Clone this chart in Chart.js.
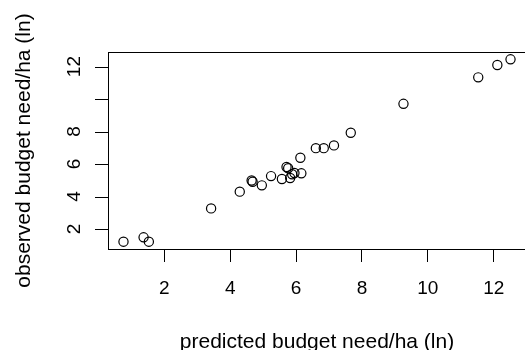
<!DOCTYPE html>
<html>
<head>
<meta charset="utf-8">
<script src="https://cdn.jsdelivr.net/npm/chart.js@4"></script>
<style>
  html, body { margin: 0; padding: 0; background: #fff; overflow: hidden; }
  #wrap { width: 540px; height: 350px; position: relative; }
</style>
</head>
<body>
<div id="wrap"><canvas id="c" width="540" height="350"></canvas></div>
<script>
// Data
const predicted = [0.76, 1.37, 1.53, 3.42, 4.29, 4.65, 4.68, 4.96, 5.24, 5.57, 5.71, 5.76, 5.82, 5.88, 5.95, 6.16, 6.13, 6.60, 6.84, 7.15, 7.66, 9.26, 11.53, 12.11, 12.51];
const observed  = [1.22, 1.49, 1.22, 3.27, 4.30, 4.99, 4.91, 4.69, 5.26, 5.08, 5.82, 5.74, 5.14, 5.37, 5.45, 5.43, 6.39, 6.98, 6.98, 7.15, 7.93, 9.71, 11.34, 12.10, 12.45];
const xTicks = [2, 4, 6, 8, 10, 12];
const yTicks = [2, 4, 6, 8, 10, 12];
const yTickLabels = ['2', '4', '6', '8', '', '12'];
const xTitle = 'predicted budget need/ha (ln)';
const yTitle = 'observed budget need/ha (ln)';

const points = predicted.map((x, i) => ({ x: x, y: observed[i] }));
const FONT = '"Liberation Sans", Arial, Helvetica, sans-serif';

const rPlot = {
  id: 'rPlot',
  afterDraw(chart) {
    const ctx = chart.ctx;
    const a = chart.chartArea;
    const ys = chart.scales.y;
    ctx.save();
    ctx.strokeStyle = '#000';
    ctx.lineWidth = 1;
    ctx.strokeRect(Math.round(a.left) + 0.5, Math.round(a.top) + 0.5,
                   Math.round(a.right - a.left), Math.round(a.bottom - a.top));
    // y tick marks and labels
    ctx.fillStyle = '#000';
    ctx.font = '19px ' + FONT;
    yTicks.forEach((v, i) => {
      const py = Math.round(ys.getPixelForValue(v)) + 0.5;
      ctx.beginPath();
      ctx.moveTo(a.left - 13, py);
      ctx.lineTo(a.left, py);
      ctx.stroke();
      if (yTickLabels[i]) {
        ctx.save();
        ctx.translate(80, ys.getPixelForValue(v));
        ctx.rotate(-Math.PI / 2);
        ctx.textAlign = 'center';
        ctx.textBaseline = 'alphabetic';
        ctx.fillText(yTickLabels[i], 0, 0);
        ctx.restore();
      }
    });
    // axis titles
    ctx.font = '21px ' + FONT;
    ctx.textAlign = 'center';
    ctx.textBaseline = 'alphabetic';
    ctx.fillText(xTitle, (a.left + a.right) / 2, 348);
    ctx.save();
    ctx.translate(30, (a.top + a.bottom) / 2);
    ctx.rotate(-Math.PI / 2);
    ctx.fillText(yTitle, 0, 0);
    ctx.restore();
    ctx.restore();
  }
};

new Chart(document.getElementById('c'), {
  type: 'scatter',
  data: {
    datasets: [{
      data: points,
      pointStyle: 'circle',
      pointRadius: 4.6,
      pointHoverRadius: 4.6,
      borderColor: '#000',
      backgroundColor: 'rgba(0,0,0,0)',
      borderWidth: 1.2
    }]
  },
  options: {
    responsive: false,
    animation: false,
    events: [],
    layout: { padding: { top: 52, left: 0, right: 14, bottom: 0 } },
    plugins: { legend: { display: false }, tooltip: { enabled: false } },
    scales: {
      x: {
        type: 'linear',
        min: 0.29,
        max: 12.98,
        afterBuildTicks: s => { s.ticks = xTicks.map(v => ({ value: v })); },
        afterFit: s => { s.height = 101; },
        border: { display: false },
        grid: { drawOnChartArea: false, drawTicks: true, tickLength: 13, color: '#000', lineWidth: 1 },
        ticks: { color: '#000', font: { family: FONT, size: 19 }, padding: 15, maxRotation: 0, autoSkip: false }
      },
      y: {
        type: 'linear',
        min: 0.77,
        max: 12.9,
        afterBuildTicks: s => { s.ticks = yTicks.map(v => ({ value: v })); },
        afterFit: s => { s.width = 108; },
        border: { display: false },
        grid: { display: false },
        ticks: { display: false }
      }
    }
  },
  plugins: [rPlot]
});
</script>
</body>
</html>
